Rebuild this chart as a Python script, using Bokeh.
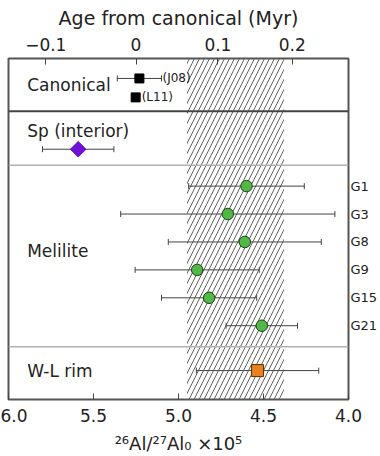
import math
from bokeh.plotting import figure
from bokeh.models import Range1d, LinearAxis, FixedTicker, Span, PrintfTickFormatter
from bokeh.embed import file_html
from bokeh.resources import INLINE
from bokeh.core.properties import value

# ---------------- data ----------------
canon_names = ["(J08)", "(L11)"]
canon_vals = [5.23, 5.252]
canon_errs = [0.13, 0.0]

sp_vals = [5.59]
sp_errs = [0.21]

mel_names = ["G1", "G3", "G8", "G9", "G15", "G21"]
mel_vals = [4.60, 4.71, 4.61, 4.89, 4.82, 4.51]
mel_errs = [0.34, 0.63, 0.45, 0.365, 0.28, 0.21]

wl_vals = [4.535]
wl_errs = [0.36]

band_lo, band_hi = 4.38, 4.95

group_labels = ["Canonical", "Sp (interior)", "Melilite", "W-L rim"]

x_start, x_end = 6.0, 4.0
bottom_ticks = [6.0, 5.5, 5.0, 4.5, 4.0]
age_ticks = [-0.1, 0.0, 0.1, 0.2]
age_labels = ["\u22120.1", "0", "0.1", "0.2"]
canonical_ratio = 5.25
half_life = 0.72  # Myr

# ---------------- layout (vertical positions, frame pixel units) ----------------
H = 342
canon_y = [20, 39]
sp_y = [91]
mel_y = [128 + 28 * i for i in range(len(mel_names))]
wl_y = [313]
label_y = [27, 73, 193, 313]
thick_div = 53
thin_divs = [107, 289]

FONT = "DejaVu Sans"
TXT = "#222222"

p = figure(width=380, height=456, x_range=Range1d(x_start, x_end), y_range=Range1d(H, 0),
           output_backend="svg", toolbar_location=None, y_axis_location=None,
           min_border_left=8, min_border_right=32, min_border_top=58, min_border_bottom=56)
p.xgrid.visible = False
p.ygrid.visible = False
p.outline_line_color = "#555555"
p.outline_line_width = 2
p.background_fill_color = "white"
p.border_fill_color = "white"

# hatched band
p.quad(left=[band_hi], right=[band_lo], top=[0], bottom=[H], fill_alpha=0, line_alpha=0,
       hatch_pattern="/", hatch_color="#626262", hatch_weight=1, hatch_scale=10)

# dividers
p.add_layout(Span(location=thick_div, dimension="width", line_color="#444444", line_width=2))
for d in thin_divs:
    p.add_layout(Span(location=d, dimension="width", line_color="#b0b0b0", line_width=1.5))

# error bars
def errbars(vals, errs, ys, cap=3):
    xs0 = [v + e for v, e in zip(vals, errs) if e > 0]
    xs1 = [v - e for v, e in zip(vals, errs) if e > 0]
    yy = [y for y, e in zip(ys, errs) if e > 0]
    if not yy:
        return
    p.segment(x0=xs0, x1=xs1, y0=yy, y1=yy, line_color="#444444", line_width=1)
    p.segment(x0=xs0, x1=xs0, y0=[y - cap for y in yy], y1=[y + cap for y in yy],
              line_color="#444444", line_width=1)
    p.segment(x0=xs1, x1=xs1, y0=[y - cap for y in yy], y1=[y + cap for y in yy],
              line_color="#444444", line_width=1)

errbars(canon_vals, canon_errs, canon_y)
errbars(sp_vals, sp_errs, sp_y)
errbars(mel_vals, mel_errs, mel_y)
errbars(wl_vals, wl_errs, wl_y)

# markers
p.scatter(x=canon_vals, y=canon_y, marker="square", size=9, fill_color="black", line_color="black")
p.scatter(x=sp_vals, y=sp_y, marker="square", angle=math.pi / 4, size=11,
          fill_color="#7010d8", line_color="#5a0cae")
p.scatter(x=mel_vals, y=mel_y, marker="circle", size=11.5, fill_color="#4fb847",
          line_color="#1f3f14", line_width=1)
p.scatter(x=wl_vals, y=wl_y, marker="square", size=12, fill_color="#e8821e",
          line_color="#5a3000", line_width=1)

# reference labels
p.text(x=[canon_vals[0] - canon_errs[0]], y=[canon_y[0]], text=[canon_names[0]],
       text_font=value(FONT), text_font_size="12px", text_baseline="middle",
       text_align="left", x_offset=1, text_color=TXT)
p.text(x=[canon_vals[1]], y=[canon_y[1]], text=[canon_names[1]],
       text_font=value(FONT), text_font_size="12px", text_baseline="middle",
       text_align="left", x_offset=6, text_color=TXT)

# group labels
p.text(x=[5.89] * len(group_labels), y=label_y, text=group_labels,
       text_font=value(FONT), text_font_size="17px", text_baseline="middle",
       text_align="left", text_color=TXT)

# bottom axis
xa = p.xaxis[0]
xa.ticker = FixedTicker(ticks=bottom_ticks)
xa.formatter = PrintfTickFormatter(format="%.1f")
xa.major_tick_in = 6
xa.major_tick_out = 0
xa.major_tick_line_color = "#444444"
xa.minor_tick_line_color = None
xa.axis_line_color = None
xa.major_label_text_font = FONT
xa.major_label_text_font_size = "17px"
xa.major_label_text_color = TXT
xa.major_label_standoff = 9
xa.axis_label = "\u00b2\u2076Al/\u00b2\u2077Al\u2080 \u00d710\u2075"
xa.axis_label_text_font = FONT
xa.axis_label_text_font_size = "18px"
xa.axis_label_text_font_style = "normal"
xa.axis_label_text_color = TXT
xa.axis_label_standoff = 8

# top axis: age from canonical
lam = math.log(2) / half_life
age_pos = [canonical_ratio * math.exp(-lam * t) for t in age_ticks]
ta = LinearAxis(ticker=FixedTicker(ticks=age_pos),
                major_label_overrides={pos: lab for pos, lab in zip(age_pos, age_labels)})
ta.major_tick_in = 6
ta.major_tick_out = 0
ta.major_tick_line_color = "#444444"
ta.minor_tick_line_color = None
ta.axis_line_color = None
ta.major_label_text_font = FONT
ta.major_label_text_font_size = "17px"
ta.major_label_text_color = TXT
ta.major_label_standoff = 8
ta.axis_label = "Age from canonical (Myr)"
ta.axis_label_text_font = FONT
ta.axis_label_text_font_size = "19px"
ta.axis_label_text_font_style = "normal"
ta.axis_label_text_color = TXT
ta.axis_label_standoff = 6
p.add_layout(ta, "above")

# right axis: melilite spot names
ra = LinearAxis(ticker=FixedTicker(ticks=mel_y),
                major_label_overrides={y: n for y, n in zip(mel_y, mel_names)})
ra.major_tick_line_color = None
ra.major_tick_in = 0
ra.major_tick_out = 0
ra.minor_tick_line_color = None
ra.axis_line_color = None
ra.major_label_text_font = FONT
ra.major_label_text_font_size = "13px"
ra.major_label_text_color = TXT
ra.major_label_standoff = 2
p.add_layout(ra, "right")

open("out.html", "w").write(file_html(p, INLINE))
